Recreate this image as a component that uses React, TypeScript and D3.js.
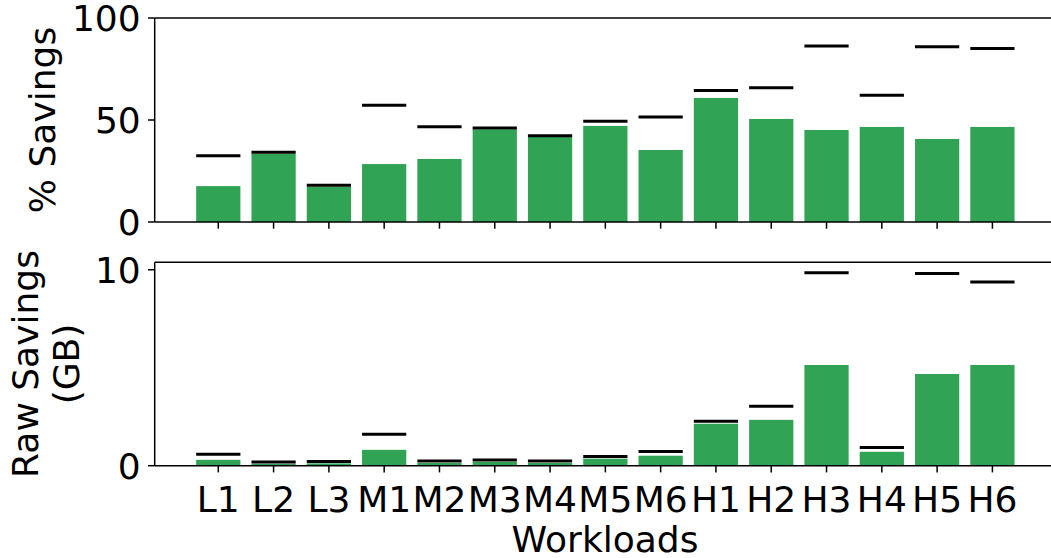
import React from "react";
import * as d3 from "d3";

const categories = ["L1","L2","L3","M1","M2","M3","M4","M5","M6","H1","H2","H3","H4","H5","H6"];
const pctSavings = [17.6,33.5,17.3,28.4,30.9,45.4,41.8,47.1,35.3,60.8,50.5,45.1,46.6,40.7,46.6];
const pctMax = [32.5,34.2,18.0,57.2,46.7,46.1,42.3,49.4,51.5,64.5,65.8,86.3,62.1,85.9,85.1];
const rawSavings = [0.30,0.10,0.12,0.81,0.14,0.20,0.14,0.36,0.51,2.14,2.34,5.14,0.71,4.68,5.14];
const rawMax = [0.58,0.19,0.22,1.61,0.24,0.29,0.24,0.47,0.73,2.27,3.03,9.85,0.93,9.81,9.37];
const pctTicks = [0, 50, 100];
const rawTicks = [0, 10];

const GREEN = "#31a354";
const FONT = "DejaVu Sans, sans-serif";
const FS = 36;

const X0 = 154.7, X1 = 1056;

function Panel({ top, bottom, domain, ticks, values, maxes, showLabels }: any) {
  const x = d3.scaleBand<string>().domain(categories).range([X0, X1]).paddingInner(0.2).paddingOuter(0.75);
  const y = d3.scaleLinear().domain(domain).range([bottom, top]);
  const bw = x.bandwidth();
  return (
    <g>
      {categories.map((c, i) => (
        <rect key={"b" + c} x={x(c)} y={y(values[i])} width={bw} height={y(0) - y(values[i])} fill={GREEN} />
      ))}
      {categories.map((c, i) => (
        <line key={"m" + c} x1={x(c)!} x2={x(c)! + bw} y1={y(maxes[i])} y2={y(maxes[i])} stroke="#000" strokeWidth={3} />
      ))}
      <line x1={X0} x2={X0} y1={top} y2={bottom} stroke="#000" strokeWidth={1.5} />
      <line x1={X0} x2={X1} y1={top} y2={top} stroke="#000" strokeWidth={1.5} />
      <line x1={X0} x2={X1} y1={bottom} y2={bottom} stroke="#000" strokeWidth={1.5} />
      {ticks.map((t: number) => (
        <g key={"t" + t}>
          <line x1={X0 - 6.7} x2={X0} y1={y(t)} y2={y(t)} stroke="#000" strokeWidth={1.5} />
          <text x={X0 - 14} y={y(t)} dy="0.36em" textAnchor="end" fontSize={FS} fontFamily={FONT}>{t}</text>
        </g>
      ))}
      {categories.map((c) => {
        const cx = x(c)! + bw / 2;
        return (
          <g key={"x" + c}>
            <line x1={cx} x2={cx} y1={bottom} y2={bottom + 6.7} stroke="#000" strokeWidth={1.5} />
            {showLabels && (
              <text x={cx} y={bottom + 46} textAnchor="middle" fontSize={FS} fontFamily={FONT}>{c}</text>
            )}
          </g>
        );
      })}
    </g>
  );
}

export default function App() {
  return (
    <svg width={1051} height={558} style={{ position: "absolute", left: 0, top: 0, background: "#fff" }}>
      <rect width={1051} height={558} fill="#fff" />
      <Panel top={18} bottom={222} domain={[0, 100]} ticks={pctTicks} values={pctSavings} maxes={pctMax} showLabels={false} />
      <Panel top={262.3} bottom={465.7} domain={[0, 10.38]} ticks={rawTicks} values={rawSavings} maxes={rawMax} showLabels={true} />
      <text transform="translate(55,120) rotate(-90)" textAnchor="middle" fontSize={FS} fontFamily={FONT}>% Savings</text>
      <text transform="translate(38,364) rotate(-90)" textAnchor="middle" fontSize={FS} fontFamily={FONT}>Raw Savings</text>
      <text transform="translate(79,364) rotate(-90)" textAnchor="middle" fontSize={FS} fontFamily={FONT}>(GB)</text>
      <text x={605} y={552} textAnchor="middle" fontSize={FS} fontFamily={FONT}>Workloads</text>
    </svg>
  );
}
